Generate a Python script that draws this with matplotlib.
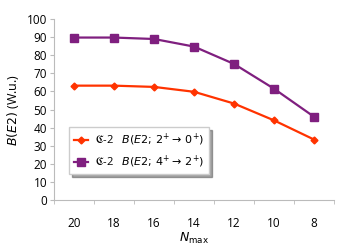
import numpy as np
import matplotlib.pyplot as plt

nmax = ['20', '18', '16', '14', '12', '10', '8']
be2_20 = [63.2, 63.2, 62.5, 59.8, 53.3, 44.0, 33.4]
be2_42 = [89.8, 89.8, 89.0, 84.8, 75.2, 61.5, 46.0]

plt.rcParams['font.family'] = ['Open Sans', 'DejaVu Sans']
plt.rcParams['mathtext.fontset'] = 'dejavusans'

fig = plt.figure(figsize=(3.49, 2.45), dpi=100)
ax = fig.add_axes([0.155, 0.184, 0.802, 0.738])

x = np.arange(len(nmax))
ax.plot(x, be2_20, color='#FF3300', lw=1.6, marker='D', ms=3.5,
        label='$\\mathfrak{C}$-2   $B(E2;\\,2^{+}\\rightarrow\\,0^{+})$')
ax.plot(x, be2_42, color='#7F1F7F', lw=1.6, marker='s', ms=6,
        label='$\\mathfrak{C}$-2   $B(E2;\\,4^{+}\\rightarrow\\,2^{+})$')

ax.set_xlim(-0.5, len(nmax) - 0.5)
ax.set_ylim(0, 100)
ax.set_yticks(range(0, 101, 10))
ax.set_xticks(x)
ax.set_xticklabels(nmax)
ax.set_xticks(np.arange(-0.5, len(nmax), 1), minor=True)
ax.tick_params(axis='x', which='major', length=0, pad=12, labelsize=8.5)
ax.tick_params(axis='x', which='minor', length=3, color='#BBBBBB')
ax.tick_params(axis='y', length=3, color='#BBBBBB', labelsize=8.5, pad=2)
for s in ['top', 'right']:
    ax.spines[s].set_visible(False)
for s in ['left', 'bottom']:
    ax.spines[s].set_color('#BBBBBB')

ax.set_ylabel('$B(E2)$ (W.u.)', fontsize=9, labelpad=4)
ax.set_xlabel('$N_{\\rm max}$', fontsize=9, labelpad=1)

leg = ax.legend(loc='lower left', bbox_to_anchor=(0.035, 0.11), fontsize=8,
                fancybox=False, shadow=True, handlelength=1.3,
                borderpad=0.4, labelspacing=0.5, handletextpad=0.6)
leg.get_frame().set_edgecolor('#CCCCCC')

fig.savefig('out.png', dpi=100)
